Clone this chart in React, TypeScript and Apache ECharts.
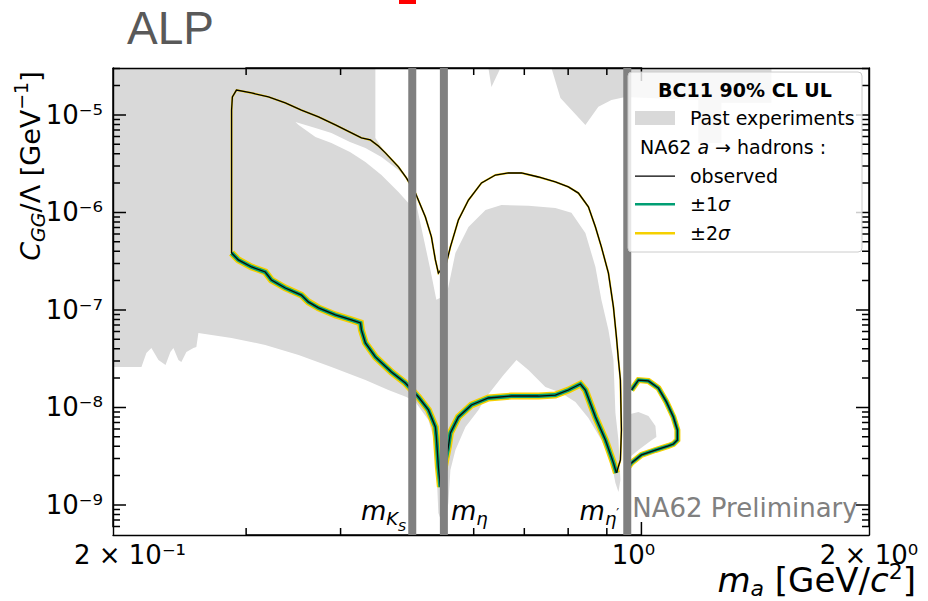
import React, { useEffect, useRef } from 'react';
import * as echarts from 'echarts';

// ---------- axes ----------
const X_MIN = 0.2;
const X_MAX = 2.0;
const Y_MIN = 4.92e-10;
const Y_MAX = 3.03e-5;

const xMajorTicks = [1];
const xMinorTicks = [0.3, 0.4, 0.5, 0.6, 0.7, 0.8, 0.9];
const xLabelValues = [0.2, 1, 2];
const xLabelTexts = ['{l|2 × 10⁻¹}', '{c|10⁰}', '{n|2 × 10⁰}'];
const yMajorTicks = [1e-9, 1e-8, 1e-7, 1e-6, 1e-5];
const yLabelTexts = ['10⁻⁹', '10⁻⁸', '10⁻⁷', '10⁻⁶', '10⁻⁵'];
const yMinorTicks = [
  6e-10, 7e-10, 8e-10, 9e-10,
  2e-9, 3e-9, 4e-9, 5e-9, 6e-9, 7e-9, 8e-9, 9e-9,
  2e-8, 3e-8, 4e-8, 5e-8, 6e-8, 7e-8, 8e-8, 9e-8,
  2e-7, 3e-7, 4e-7, 5e-7, 6e-7, 7e-7, 8e-7, 9e-7,
  2e-6, 3e-6, 4e-6, 5e-6, 6e-6, 7e-6, 8e-6, 9e-6,
  2e-5, 3e-5,
];

// ---------- meson masses (GeV) ----------
const mesonMasses = [0.4976, 0.5479, 0.9578];

// ---------- NA62 observed limit, upper branch ----------
const observedUpper = [
  [0.287, 3.84e-7], [0.287, 1.34e-6], [0.287, 4.38e-6], [0.287, 1.12e-5], [0.2877, 1.53e-5],
  [0.2913, 1.8e-5], [0.305, 1.68e-5], [0.3211, 1.53e-5], [0.338, 1.33e-5], [0.355, 1.12e-5],
  [0.374, 9.54e-6], [0.3937, 7.9e-6], [0.4134, 6.54e-6], [0.4262, 5.81e-6], [0.438, 5.54e-6],
  [0.4488, 4.81e-6], [0.4585, 4.08e-6], [0.4771, 2.93e-6], [0.4888, 2.26e-6], [0.5024, 1.58e-6],
  [0.5179, 8.99e-7], [0.5275, 5.61e-7], [0.5339, 3.26e-7], [0.5388, 2.39e-7], [0.5521, 3.04e-7],
  [0.5589, 4.43e-7], [0.5727, 8.38e-7], [0.5905, 1.34e-6], [0.6144, 2.01e-6], [0.6411, 2.42e-6],
  [0.667, 2.54e-6], [0.694, 2.54e-6], [0.7308, 2.31e-6], [0.7694, 2.06e-6], [0.8006, 1.83e-6],
  [0.8254, 1.58e-6], [0.8509, 1.14e-6], [0.8693, 7.1e-7], [0.8852, 4.43e-7], [0.9044, 2.39e-7],
  [0.9183, 1.07e-7], [0.9267, 5.28e-8], [0.9324, 3.07e-8], [0.938, 1.91e-8], [0.9409, 5.88e-9],
  [0.938, 2.89e-9], [0.9267, 2.13e-9],
];

// ---------- lower branch (expected median / observed) ----------
const expectedLower = [
  [0.287, 3.84e-7], [0.293, 3.26e-7], [0.305, 2.76e-7], [0.318, 2.45e-7], [0.324, 2.03e-7],
  [0.338, 1.68e-7], [0.355, 1.42e-7], [0.3626, 1.21e-7], [0.374, 1.05e-7], [0.3937, 8.89e-8],
  [0.4134, 7.9e-8], [0.425, 7.36e-8], [0.4262, 6.24e-8], [0.4314, 4.59e-8], [0.4447, 3.3e-8],
  [0.467, 2.31e-8], [0.4873, 1.78e-8], [0.507, 1.28e-8], [0.5227, 9.43e-9], [0.5339, 6.31e-9],
  [0.5355, 4.98e-9], [0.5388, 2.45e-9], [0.5421, 1.53e-9], [0.5521, 3.11e-9], [0.5554, 3.93e-9],
  [0.5589, 5.48e-9], [0.5727, 7.99e-9], [0.5958, 1.06e-8], [0.6275, 1.25e-8], [0.673, 1.31e-8],
  [0.7308, 1.31e-8], [0.7694, 1.34e-8], [0.8006, 1.51e-8], [0.8304, 1.74e-8], [0.8431, 1.51e-8],
  [0.8693, 7.99e-9], [0.8962, 4.64e-9], [0.9183, 2.7e-9], [0.9267, 2.13e-9],
];

// ---------- closed contour above the eta' mass ----------
const loopCurve = [
  [0.97, 1.51e-8], [0.9909, 1.91e-8], [1.0216, 1.87e-8], [1.0531, 1.58e-8], [1.0791, 1.14e-8],
  [1.1023, 7.99e-9], [1.1158, 5.88e-9], [1.1158, 4.64e-9], [1.1023, 4.22e-9], [1.0857, 4.03e-9],
  [1.0436, 3.66e-9], [1.0, 3.26e-9], [0.97, 2.7e-9], [0.961, 2.45e-9],
];

// ---------- past experiments (BC11 90% CL) ----------
const pastMain = [
  [0.2, 3.03e-5], [0.4447, 3.03e-5], [0.4447, 5.81e-6], [0.4585, 4.08e-6], [0.4771, 2.93e-6],
  [0.4888, 2.26e-6], [0.4948, 1.91e-6], [0.5024, 1.34e-6], [0.5147, 5.61e-7], [0.5259, 2.57e-7],
  [0.5355, 1.27e-7], [0.548, 1.39e-7], [0.5538, 1.6e-7], [0.5554, 1.72e-7], [0.5675, 3.84e-7],
  [0.5905, 7.1e-7], [0.6219, 1.06e-6], [0.6529, 1.19e-6], [0.7088, 1.17e-6], [0.7694, 1.11e-6],
  [0.808, 9.9e-7], [0.8431, 6.16e-7], [0.8693, 2.76e-7], [0.8852, 1.27e-7], [0.9044, 6.24e-8],
  [0.9183, 3.07e-8], [0.9239, 8.78e-9], [0.9324, 4.64e-9], [0.938, 1.8e-9], [0.9324, 1.36e-9],
  [0.9239, 1.68e-9], [0.9127, 2.7e-9], [0.8852, 4.64e-9], [0.8509, 7.8e-9], [0.8179, 1.14e-8],
  [0.7838, 1.41e-8], [0.7464, 1.62e-8], [0.7088, 2.42e-8], [0.6835, 3.07e-8], [0.657, 2.15e-8],
  [0.6219, 1.25e-8], [0.6088, 9.43e-9], [0.5851, 6.31e-9], [0.5675, 3.66e-9], [0.5589, 2.28e-9],
  [0.5554, 1.05e-9], [0.5487, 5.54e-10], [0.5388, 8.28e-10], [0.5355, 2.45e-9], [0.5307, 4.98e-9],
  [0.5227, 7.44e-9], [0.5024, 1.14e-8], [0.4888, 1.28e-8], [0.4627, 1.51e-8], [0.4314, 1.91e-8],
  [0.389, 2.6e-8], [0.352, 3.45e-8], [0.318, 4.38e-8], [0.287, 5.16e-8], [0.2594, 5.81e-8],
  [0.2578, 4.17e-8], [0.2555, 4.08e-8], [0.2501, 3.71e-8], [0.2463, 2.93e-8], [0.2441, 3.07e-8],
  [0.2404, 4.08e-8], [0.2382, 3.71e-8], [0.2347, 2.73e-8], [0.2297, 3.07e-8], [0.2248, 4.08e-8],
  [0.2214, 3.62e-8], [0.2181, 2.6e-8], [0.2, 2.6e-8],
];
const pastSpike = [[0.6275, 3.03e-5], [0.6509, 3.03e-5], [0.6333, 1.94e-5]];
const pastTopRight = [
  [0.7603, 3.03e-5], [1.4859, 3.03e-5], [1.4859, 1.33e-5], [1.2757, 1.33e-5], [1.2757, 5.16e-6],
  [1.1894, 5.16e-6], [1.1894, 1.42e-5], [0.9524, 1.53e-5], [0.9127, 1.42e-5], [0.8771, 1.21e-5],
  [0.8431, 7.9e-6], [0.7814, 1.49e-5],
];
const pastBlob = [
  [0.9554, 8.38e-9], [0.9909, 8.99e-9], [1.0216, 8.18e-9], [1.0436, 6.46e-9], [1.0467, 4.98e-9],
  [1.028, 4.53e-9], [0.9909, 3.66e-9], [0.9554, 2.89e-9],
];
// unexcluded gap inside the past-experiment region
const pastGap = [
  [0.3486, 8.48e-6], [0.3705, 7.36e-6], [0.389, 6.54e-6], [0.4116, 5.28e-6], [0.4314, 4.59e-6],
  [0.453, 3.71e-6], [0.4771, 2.73e-6], [0.4918, 2.11e-6], [0.4918, 1.25e-6], [0.4771, 1.62e-6],
  [0.453, 2.42e-6], [0.4314, 3.3e-6], [0.4116, 4.17e-6], [0.389, 5.16e-6], [0.3705, 5.95e-6],
  [0.352, 7.9e-6],
];

// ---------- layout / styling ----------
const WIDTH = 928;
const HEIGHT = 601;
const GRID = { left: 113, right: 59, top: 68, bottom: 66 };
const FONT = 'DejaVu Sans';
const GRAY = '#d9d9d9';
const BAND = '#808080';
const GREEN = '#009e73';
const YELLOW = '#f5d000';
const MAJOR_LEN = 13;
const MINOR_LEN = 7;

const rs = (size: number, extra: any = {}) => ({
  fontFamily: FONT, fontSize: size, verticalAlign: 'middle', ...extra,
});

function nearestLabel(v: number, values: number[], texts: string[]) {
  let best = 0;
  let bd = Infinity;
  values.forEach((u, i) => {
    const d = Math.abs(Math.log10(v) - Math.log10(u));
    if (d < bd) { bd = d; best = i; }
  });
  return texts[best];
}

const insideX = (v: number) => Math.min(Math.max(v, X_MIN * 1.000001), X_MAX * 0.999999);
const insideY = (v: number) => Math.min(Math.max(v, Y_MIN * 1.000001), Y_MAX * 0.999999);

function xAxisDef(position: string, labels: boolean) {
  return {
    type: 'log', logBase: 10, min: X_MIN, max: X_MAX, position, gridIndex: 0, z: 3,
    axisLine: { show: true, onZero: false, lineStyle: { color: '#000', width: 1.4 } },
    axisTick: { show: false },
    axisLabel: labels
      ? {
          show: true,
          customValues: xLabelValues.map(insideX),
          formatter: (v: number) => nearestLabel(v, xLabelValues, xLabelTexts),
          margin: 7,
          color: '#000',
          fontFamily: FONT,
          fontSize: 26,
          rich: {
            l: rs(26, { color: '#000', padding: [0, 0, 0, 34] }),
            c: rs(26, { color: '#000', padding: [0, 16, 0, 0] }),
            n: rs(26, { color: '#000' }),
          },
        }
      : { show: false },
    splitLine: { show: false },
    minorTick: { show: false },
    minorSplitLine: { show: false },
  };
}

function yAxisDef(position: string, labels: boolean) {
  return {
    type: 'log', logBase: 10, min: Y_MIN, max: Y_MAX, position, gridIndex: 0, z: 3,
    axisLine: { show: true, onZero: false, lineStyle: { color: '#000', width: 1.4 } },
    axisTick: { show: false },
    axisLabel: labels
      ? {
          show: true,
          customValues: yMajorTicks.map(insideY),
          formatter: (v: number) => nearestLabel(v, yMajorTicks, yLabelTexts),
          margin: 10,
          color: '#000',
          fontFamily: FONT,
          fontSize: 26,
        }
      : { show: false },
    splitLine: { show: false },
    minorTick: { show: false },
    minorSplitLine: { show: false },
  };
}

const lineSeries = (data: any[], color: string, width: number, z: number, clip = true) => ({
  type: 'line',
  data,
  xAxisIndex: 0,
  yAxisIndex: 0,
  showSymbol: false,
  symbol: 'none',
  smooth: false,
  clip,
  silent: true,
  z,
  lineStyle: { color, width, cap: 'butt', join: 'miter' },
});

// Tick marks drawn as line paths that run along the frame and go in/out at each tick value.
// The tick length (px) is converted to the log-scale factor of the axis span.
function tickPaths() {
  const plotW = WIDTH - GRID.left - GRID.right;
  const plotH = HEIGHT - GRID.top - GRID.bottom;
  const pxPerDecX = plotW / Math.log10(X_MAX / X_MIN);
  const pxPerDecY = plotH / Math.log10(Y_MAX / Y_MIN);
  const fx = (len: number) => Math.pow(10, len / pxPerDecX);
  const fy = (len: number) => Math.pow(10, len / pxPerDecY);
  const xt = [...xMajorTicks.map((v) => [v, MAJOR_LEN]), ...xMinorTicks.map((v) => [v, MINOR_LEN])].sort((a, b) => a[0] - b[0]);
  const yt = [...yMajorTicks.map((v) => [v, MAJOR_LEN]), ...yMinorTicks.map((v) => [v, MINOR_LEN])].sort((a, b) => a[0] - b[0]);
  const bottom: number[][] = [];
  const top: number[][] = [];
  const left: number[][] = [];
  const right: number[][] = [];
  xt.forEach(([v, len]) => {
    bottom.push([v, Y_MIN], [v, Y_MIN * fy(len)], [v, Y_MIN]);
    top.push([v, Y_MAX], [v, Y_MAX / fy(len)], [v, Y_MAX]);
  });
  yt.forEach(([v, len]) => {
    left.push([X_MIN, v], [X_MIN * fx(len), v], [X_MIN, v]);
    right.push([X_MAX, v], [X_MAX / fx(len), v], [X_MAX, v]);
  });
  return [bottom, top, left, right];
}

function buildOption() {
  const shapes = [
    { pts: pastMain, fill: GRAY },
    { pts: pastSpike, fill: GRAY },
    { pts: pastTopRight, fill: GRAY },
    { pts: pastBlob, fill: GRAY },
    { pts: pastGap, fill: '#ffffff' },
  ];
  return {
    animation: false,
    backgroundColor: '#ffffff',
    grid: { ...GRID, outerBoundsMode: 'none', containLabel: false },
    xAxis: [xAxisDef('bottom', true), xAxisDef('top', false)],
    yAxis: [yAxisDef('left', true), yAxisDef('right', false)],
    series: [
      {
        type: 'custom',
        xAxisIndex: 0,
        yAxisIndex: 0,
        z: 1,
        silent: true,
        clip: true,
        data: shapes.map((s, i) => [s.pts[0][0], s.pts[0][1], i]),
        renderItem: (params: any, api: any) => {
          const s = shapes[params.dataIndex];
          return {
            type: 'polygon',
            shape: { points: s.pts.map((p) => api.coord(p)) },
            style: { fill: s.fill, stroke: null },
          };
        },
      },
      lineSeries(observedUpper, YELLOW, 1.9, 2),
      lineSeries(expectedLower, YELLOW, 7, 2),
      lineSeries(loopCurve, YELLOW, 6, 2),
      lineSeries(expectedLower, GREEN, 4, 2),
      lineSeries(loopCurve, GREEN, 3.5, 2),
      lineSeries(observedUpper, '#000000', 1.3, 2),
      lineSeries(expectedLower, '#0a0a0a', 1.3, 2),
      lineSeries(loopCurve, '#0a0a0a', 1.3, 2),
      ...tickPaths().map((d) => lineSeries(d, '#000000', 1.5, 50, false)),
      {
        type: 'custom',
        xAxisIndex: 0,
        yAxisIndex: 0,
        z: 60,
        silent: true,
        data: mesonMasses.map((m) => [m, Y_MIN]),
        renderItem: (params: any, api: any) => {
          const m = api.value(0);
          const top = api.coord([m, Y_MAX]);
          const bot = api.coord([m, Y_MIN]);
          return {
            type: 'rect',
            shape: { x: top[0] - 4, y: top[1], width: 8, height: bot[1] - top[1] },
            style: { fill: BAND },
          };
        },
      },
    ],
  };
}

function buildGraphics(bandX: number[]) {
  const t = (x: number, y: number, text: string, style: any, z = 80) => ({
    type: 'text', x, y, z, silent: true,
    style: { text, fontFamily: FONT, fill: '#000', ...style },
  });
  return [
    // title
    t(127, 28, 'ALP', { fontFamily: 'Liberation Sans', fontSize: 46, fill: '#595959', align: 'left', verticalAlign: 'middle' }),
    { type: 'rect', z: 80, silent: true, shape: { x: 399, y: 0, width: 17, height: 4 }, style: { fill: '#ff0000' } },
    // axis titles
    {
      type: 'text', x: 30, y: 166, z: 80, rotation: Math.PI / 2, silent: true,
      style: {
        text: '{i|C}{sub|GG}{b|/Λ [GeV}{sup|−1}{b|]}',
        align: 'center', verticalAlign: 'middle', fill: '#000', fontFamily: FONT, fontSize: 27,
        rich: {
          b: rs(27), i: rs(27, { fontStyle: 'italic' }),
          sub: rs(19, { fontStyle: 'italic', padding: [16, 0, 0, 0] }),
          sup: rs(19, { padding: [0, 0, 18, 0] }),
        },
      },
    },
    t(916, 580, '{i|m}{sub|a}{b| [GeV/}{i|c}{sup|2}{b|]}', {
      align: 'right', verticalAlign: 'middle', fontSize: 34,
      rich: {
        b: rs(34), i: rs(34, { fontStyle: 'italic' }),
        sub: rs(22, { fontStyle: 'italic', padding: [16, 0, 0, 0] }),
        sup: rs(22, { padding: [0, 0, 18, 0] }),
      },
    }),
    // meson annotations
    t(bandX[0] - 6, 511, '{i|m}{s|K}{ss|S}', {
      align: 'right', verticalAlign: 'middle', fontSize: 26,
      rich: {
        i: rs(26, { fontStyle: 'italic' }),
        s: rs(18, { fontStyle: 'italic', padding: [14, 0, 0, 0] }),
        ss: rs(13, { fontStyle: 'italic', padding: [30, 0, 0, 0] }),
      },
    }),
    t(bandX[1] + 7, 511, '{i|m}{s|η}', {
      align: 'left', verticalAlign: 'middle', fontSize: 26,
      rich: {
        i: rs(26, { fontStyle: 'italic' }),
        s: rs(18, { fontStyle: 'italic', padding: [14, 0, 0, 0] }),
      },
    }),
    t(bandX[2] - 8, 511, '{i|m}{s|η}{p|′}', {
      align: 'right', verticalAlign: 'middle', fontSize: 26,
      rich: {
        i: rs(26, { fontStyle: 'italic' }),
        s: rs(18, { fontStyle: 'italic', padding: [14, 0, 0, 0] }),
        p: rs(13, { padding: [2, 0, 0, 0] }),
      },
    }),
    t(bandX[2] + 5, 508, 'NA62 Preliminary', { align: 'left', verticalAlign: 'middle', fontSize: 26, fill: '#808080' }),
    // legend
    {
      type: 'rect', z: 90, silent: true,
      shape: { x: 628, y: 72, width: 234, height: 180, r: 4 },
      style: { fill: 'rgba(255,255,255,0.8)', stroke: '#cccccc', lineWidth: 1 },
    },
    t(745, 90, 'BC11 90% CL UL', { align: 'center', verticalAlign: 'middle', fontSize: 19, fontWeight: 'bold' }, 91),
    { type: 'rect', z: 91, silent: true, shape: { x: 635, y: 111, width: 40, height: 14 }, style: { fill: GRAY } },
    t(690, 118, 'Past experiments', { align: 'left', verticalAlign: 'middle', fontSize: 19 }, 91),
    t(640, 147, '{b|NA62 }{i|a}{b| → hadrons :}', {
      align: 'left', verticalAlign: 'middle', fontSize: 19,
      rich: { b: rs(19), i: rs(19, { fontStyle: 'italic' }) },
    }, 91),
    { type: 'rect', z: 91, silent: true, shape: { x: 635, y: 175.5, width: 40, height: 1.2 }, style: { fill: '#000' } },
    t(690, 176, 'observed', { align: 'left', verticalAlign: 'middle', fontSize: 19 }, 91),
    { type: 'rect', z: 91, silent: true, shape: { x: 635, y: 203, width: 40, height: 2.5 }, style: { fill: GREEN } },
    t(690, 204, '±1{i|σ}', {
      align: 'left', verticalAlign: 'middle', fontSize: 19,
      rich: { i: rs(19, { fontStyle: 'italic' }) },
    }, 91),
    { type: 'rect', z: 91, silent: true, shape: { x: 635, y: 232, width: 40, height: 2.5 }, style: { fill: YELLOW } },
    t(690, 233, '±2{i|σ}', {
      align: 'left', verticalAlign: 'middle', fontSize: 19,
      rich: { i: rs(19, { fontStyle: 'italic' }) },
    }, 91),
  ];
}

export default function App() {
  const ref = useRef<HTMLDivElement>(null);
  useEffect(() => {
    const chart = echarts.init(ref.current as HTMLDivElement, null, { renderer: 'svg' });
    chart.setOption(buildOption() as any);
    const bandX = mesonMasses.map((m) => {
      const p = chart.convertToPixel({ xAxisIndex: 0, yAxisIndex: 0 } as any, [m, 1e-8]) as any;
      return p ? p[0] : 0;
    });
    chart.setOption({ graphic: buildGraphics(bandX) } as any);
    return () => chart.dispose();
  }, []);
  return <div ref={ref} style={{ position: 'absolute', left: 0, top: 0, width: WIDTH, height: HEIGHT }} />;
}
